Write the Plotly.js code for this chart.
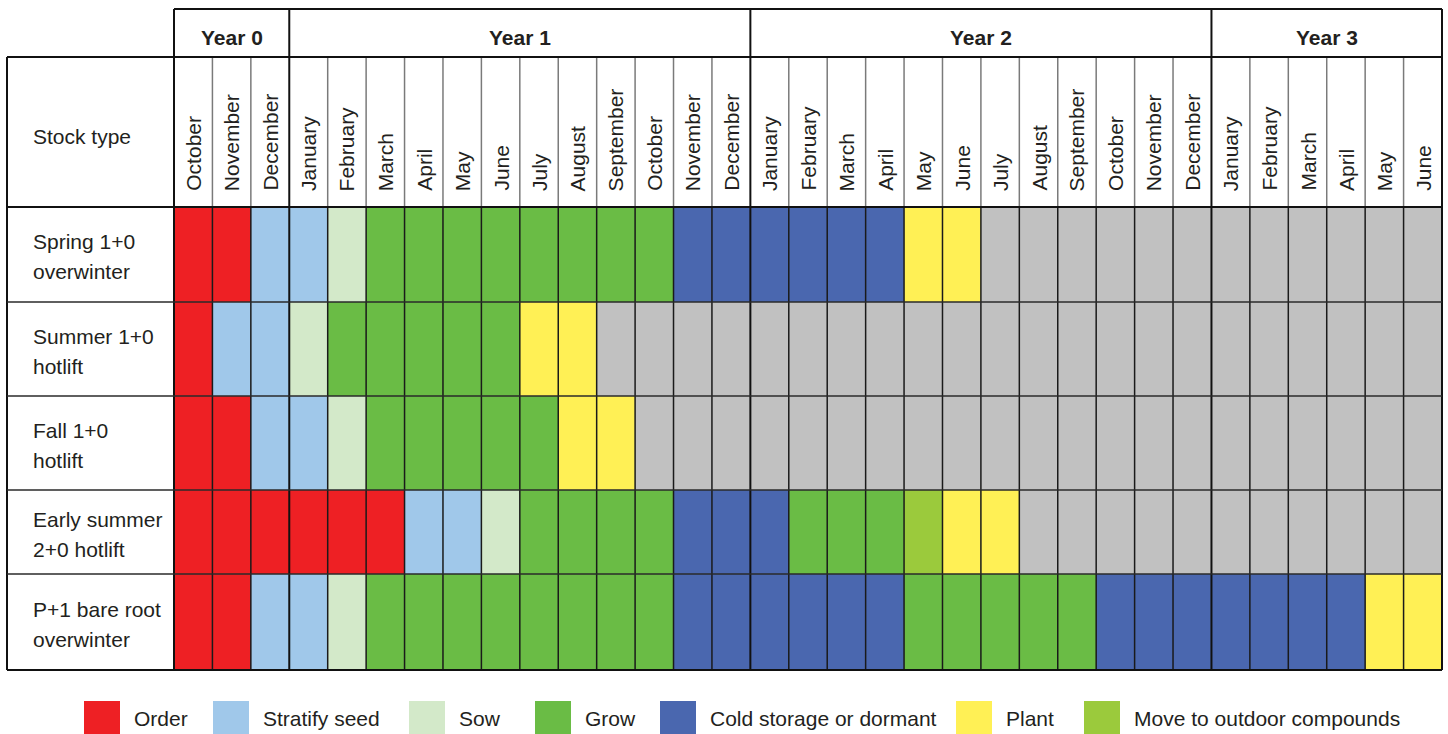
<!DOCTYPE html>
<html><head><meta charset="utf-8">
<script src="https://cdn.plot.ly/plotly-3.0.1.min.js"></script>
<style>html,body{margin:0;padding:0;background:#fff;} #chart{width:1448px;height:734px;}</style>
</head><body><div id="chart"></div>
<script>
// ---------- data ----------
const activities = ["Order", "Stratify seed", "Sow", "Grow", "Cold storage or dormant", "Plant", "Move to outdoor compounds"];
const activityCodes = ["O", "St", "So", "G", "C", "P", "M"];
const activityColors = ["#EE2024", "#A0C8EA", "#D3E9C9", "#6ABC45", "#4A67AF", "#FFF055", "#9BCA3C"];
const idleCode = "-";
const idleColor = "#C1C1C1";

const years = ["Year 0", "Year 1", "Year 2", "Year 3"];
const year0Months = ["October", "November", "December"];
const year1Months = ["January", "February", "March", "April", "May", "June", "July", "August", "September", "October", "November", "December"];
const year2Months = ["January", "February", "March", "April", "May", "June", "July", "August", "September", "October", "November", "December"];
const year3Months = ["January", "February", "March", "April", "May", "June"];

const stockTypes = ["Spring 1+0<br>overwinter", "Summer 1+0<br>hotlift", "Fall 1+0<br>hotlift", "Early summer<br>2+0 hotlift", "P+1 bare root<br>overwinter"];

// one code per month: Year 0 (Oct-Dec) | Year 1 | Year 2 | Year 3 (Jan-Jun)
const springOverwinter = ["O","O","St",  "St","So","G","G","G","G","G","G","G","G","C","C",  "C","C","C","C","P","P","-","-","-","-","-","-",  "-","-","-","-","-","-"];
const summerHotlift    = ["O","St","St", "So","G","G","G","G","G","P","P","-","-","-","-",    "-","-","-","-","-","-","-","-","-","-","-","-",  "-","-","-","-","-","-"];
const fallHotlift      = ["O","O","St",  "St","So","G","G","G","G","G","P","P","-","-","-",   "-","-","-","-","-","-","-","-","-","-","-","-",  "-","-","-","-","-","-"];
const earlySummer20    = ["O","O","O",   "O","O","O","St","St","So","G","G","G","G","C","C", "C","G","G","G","M","P","P","-","-","-","-","-",  "-","-","-","-","-","-"];
const p1BareRoot       = ["O","O","St",  "St","So","G","G","G","G","G","G","G","G","C","C",  "C","C","C","C","G","G","G","G","G","C","C","C",  "C","C","C","C","P","P"];
const rowSeries = [springOverwinter, summerHotlift, fallHotlift, earlySummer20, p1BareRoot];

// ---------- layout constants (pixels) ----------
const W = 1448, H = 734;
const plotL = 174, plotR = 1442, plotT = 207, plotB = 670;
const tableLeft = 7, yearTop = 9, monthTop = 57;
const rowHeights = [95, 94, 94, 84, 96];
const FONT = "'Liberation Sans', Arial, sans-serif";
const TXT = "#231F20";
const FS = 21;
const LINE_GAP = 30;

const px = v => (v - plotL) / (plotR - plotL);
const py = v => (plotB - v) / (plotB - plotT);

const yearMonthLists = [year0Months, year1Months, year2Months, year3Months];
const months = [].concat(...yearMonthLists);
const nM = months.length;

const yEdges = [0];
rowHeights.forEach(h => yEdges.push(yEdges[yEdges.length - 1] + h));
const totalH = yEdges[yEdges.length - 1];
const rowCenters = rowHeights.map((h, i) => yEdges[i] + h / 2);

const allCodes = activityCodes.concat([idleCode]);
const allColors = activityColors.concat([idleColor]);
const z = rowSeries.map(r => r.map(c => allCodes.indexOf(c)));
const nC = allColors.length;
const colorscale = [];
allColors.forEach((c, i) => { colorscale.push([i / nC, c]); colorscale.push([(i + 1) / nC, c]); });

const trace = {
  type: "heatmap",
  z: z,
  x: months.map((m, i) => i),
  y: yEdges,
  zmin: -0.5, zmax: nC - 0.5,
  colorscale: colorscale,
  showscale: false,
  hoverinfo: "skip"
};

const shapes = [];
const annotations = [];
const line = (x0, y0, x1, y1, color, width) => shapes.push({type: "line", xref: "paper", yref: "paper", x0, y0, x1, y1, line: {color, width}});

const yearStarts = [0];
yearMonthLists.forEach(l => yearStarts.push(yearStarts[yearStarts.length - 1] + l.length));

for (let k = 0; k <= nM; k++) {
  const xp = k / nM;
  if (yearStarts.includes(k)) {
    line(xp, 0, xp, py(yearTop), "#111", 2);
  } else {
    line(xp, 0, xp, 1, "#1a1a1a", 1.5);
    line(xp, 1, xp, py(monthTop), "#7a7a7a", 1.5);
  }
}
line(px(tableLeft), 0, px(tableLeft), py(monthTop), "#111", 2);
line(0, py(yearTop), 1, py(yearTop), "#111", 2);
line(px(tableLeft), py(monthTop), 1, py(monthTop), "#111", 2);
yEdges.forEach((e, i) => {
  const yp = 1 - e / totalH;
  const edge = (i === 0 || i === yEdges.length - 1);
  line(px(tableLeft), yp, 1, yp, edge ? "#111" : "#2a2a2a", edge ? 2 : 1.5);
});

years.forEach((y, i) => {
  annotations.push({xref: "x", yref: "paper", x: (yearStarts[i] + yearStarts[i + 1] - 1) / 2, y: py(37),
    text: "<b>" + y + "</b>", showarrow: false, xanchor: "center", yanchor: "middle",
    font: {family: FONT, size: FS, color: TXT}});
});
months.forEach((m, i) => {
  annotations.push({xref: "x", yref: "paper", x: i, y: py(193), text: m, textangle: -90,
    showarrow: false, xanchor: "center", yanchor: "bottom", font: {family: FONT, size: FS, color: TXT}});
});
annotations.push({xref: "paper", yref: "paper", x: px(31), y: py(136), text: "Stock type", showarrow: false,
  xanchor: "left", yanchor: "middle", font: {family: FONT, size: FS, color: TXT}});
stockTypes.forEach((s, i) => {
  const parts = s.split("<br>");
  parts.forEach((p, j) => {
    const off = (j - (parts.length - 1) / 2) * LINE_GAP;
    annotations.push({xref: "paper", yref: "y", x: px(31), y: rowCenters[i] + 2 + off, text: p, showarrow: false, align: "left",
      xanchor: "left", yanchor: "middle", font: {family: FONT, size: FS, color: TXT}});
  });
});

const legendX = [84, 213, 409, 535, 660, 956, 1084];
activities.forEach((a, i) => {
  shapes.push({type: "rect", xref: "paper", yref: "paper", x0: px(legendX[i]), x1: px(legendX[i] + 36),
    y0: py(701), y1: py(734), fillcolor: activityColors[i], line: {width: 0}});
  annotations.push({xref: "paper", yref: "paper", x: px(legendX[i] + 48), y: py(718), text: a, showarrow: false,
    xanchor: "left", yanchor: "middle", font: {family: FONT, size: FS, color: TXT}});
});

const layout = {
  width: W, height: H,
  margin: {l: plotL, r: W - plotR, t: plotT, b: H - plotB, pad: 0},
  paper_bgcolor: "#fff", plot_bgcolor: "#fff",
  xaxis: {range: [-0.5, nM - 0.5], showgrid: false, zeroline: false, showticklabels: false, showline: false, ticks: "", fixedrange: true},
  yaxis: {range: [totalH, 0], showgrid: false, zeroline: false, showticklabels: false, showline: false, ticks: "", fixedrange: true},
  shapes: shapes,
  annotations: annotations,
  showlegend: false
};

Plotly.newPlot("chart", [trace], layout, {displayModeBar: false, staticPlot: true});
</script>
</body></html>
